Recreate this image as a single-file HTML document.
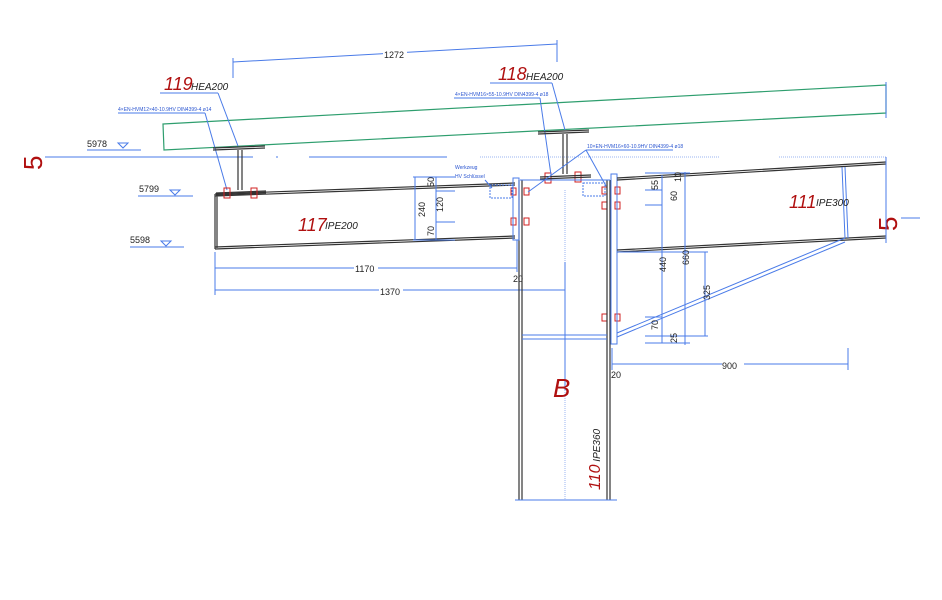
<!DOCTYPE html>
<html><head><meta charset="utf-8"><style>
html,body{margin:0;padding:0;background:#fff;width:942px;height:600px;overflow:hidden}
svg{display:block}
text{font-family:"Liberation Sans",sans-serif}
.b{stroke:#4a7be8;stroke-width:1;fill:none}
.g{stroke:#555;stroke-width:1;fill:none}
.k{stroke:#333;stroke-width:1.2;fill:none}
.r{stroke:#d02020;stroke-width:1;fill:none}
.bt{fill:#2a55d0;font-size:5px}
.dt{fill:#222;font-size:9px}
.red{fill:#b01010;font-style:italic;font-size:18px}
.sm{fill:#222;font-style:italic;font-size:10px}
</style></head><body>
<svg width="942" height="600" viewBox="0 0 942 600">
<!-- top dimension 1272 -->
<line class="b" x1="233" y1="62" x2="557" y2="44"/>
<line class="b" x1="233" y1="58" x2="233" y2="78"/>
<line class="b" x1="557" y1="40" x2="557" y2="62"/>
<rect x="383" y="48" width="24" height="10" fill="#fff"/>
<text x="384" y="58" class="dt" font-size="10">1272</text>

<!-- green purlin beam -->
<polygon points="163,124 886,85 886,113 164,150" fill="none" stroke="#2e9e6e" stroke-width="1.2"/>
<line class="b" x1="886" y1="82" x2="886" y2="118"/>

<!-- section line 5 -->
<line class="b" x1="45" y1="157" x2="253" y2="157"/>
<line class="b" x1="276" y1="157" x2="278" y2="157"/>
<line class="b" x1="309" y1="157" x2="447" y2="157"/>
<line x1="480" y1="157" x2="720" y2="157" stroke="#9bb4f0" stroke-width="1" stroke-dasharray="1,1"/>
<line x1="779" y1="157" x2="886" y2="157" stroke="#9bb4f0" stroke-width="1" stroke-dasharray="1,1"/>
<text x="20" y="168" fill="#b01010" font-size="26" transform="rotate(-90 32 158)">5</text>
<text x="874" y="230" fill="#b01010" font-size="26" transform="rotate(-90 886 219)">5</text>
<line class="b" x1="901" y1="218" x2="920" y2="218"/>

<!-- levels -->
<text x="87" y="147" class="dt" font-size="13">5978</text>
<line class="b" x1="87" y1="150" x2="141" y2="150"/>
<polygon points="118,143 128,143 123,148" class="b"/>
<text x="139" y="192" class="dt" font-size="13">5799</text>
<line class="b" x1="138" y1="196" x2="193" y2="196"/>
<polygon points="170,190 180,190 175,195" class="b"/>
<text x="130" y="243" class="dt" font-size="13">5598</text>
<line class="b" x1="130" y1="247" x2="184" y2="247"/>
<polygon points="161,241 171,241 166,246" class="b"/>

<!-- 119 HEA200 -->
<text x="164" y="90" class="red">119</text><text x="191" y="90" class="sm">HEA200</text>
<line class="b" x1="160" y1="93" x2="218" y2="93"/>
<line class="b" x1="218" y1="93" x2="238" y2="146"/>
<text x="118" y="111" class="bt">4×EN-HVM12×40-10.9HV DIN4399-4 ø14</text>
<line class="b" x1="118" y1="113" x2="205" y2="113"/>
<line class="b" x1="205" y1="113" x2="227" y2="190"/>
<path class="k" d="M213,148 L265,146 M213,150 L265,148 M238,150 L238,190 M242,150 L242,190 M216,193 L266,191 M216,195 L266,193"/>

<!-- beam 117 -->
<path class="k" d="M215,194 L515,183 M215,196 L515,185 M215,247 L515,236 M215,249 L515,238 M215,194 L215,249 M217,195 L217,248"/>
<text x="298" y="231" class="red" font-size="20">117</text><text x="325" y="229" class="sm">IPE200</text>
<!-- bolts -->
<g class="r">
<rect x="224" y="188" width="6" height="10"/><rect x="251" y="188" width="6" height="10"/>
<rect x="545" y="173" width="6" height="10"/><rect x="575" y="172" width="6" height="10"/>
<rect x="511" y="188" width="5" height="7"/><rect x="524" y="188" width="5" height="7"/>
<rect x="511" y="218" width="5" height="7"/><rect x="524" y="218" width="5" height="7"/>
<rect x="602" y="187" width="5" height="7"/><rect x="615" y="187" width="5" height="7"/>
<rect x="602" y="202" width="5" height="7"/><rect x="615" y="202" width="5" height="7"/>
<rect x="602" y="314" width="5" height="7"/><rect x="615" y="314" width="5" height="7"/>
</g>

<!-- dims left beam -->
<g class="b">
<line x1="415" y1="177" x2="415" y2="240"/><line x1="436" y1="177" x2="436" y2="240"/>
<line x1="413" y1="177" x2="455" y2="177"/><line x1="413" y1="240" x2="455" y2="240"/>
<line x1="436" y1="191" x2="455" y2="191"/><line x1="436" y1="222" x2="455" y2="222"/>
<line x1="215" y1="252" x2="215" y2="295"/>
<line x1="215" y1="268" x2="517" y2="268"/>
<line x1="215" y1="290" x2="565" y2="290"/>
<line x1="517" y1="240" x2="517" y2="272"/>
</g>
<g class="dt" font-size="8">
<text transform="translate(425,217) rotate(-90)">240</text>
<text transform="translate(443,212) rotate(-90)">120</text>
<text transform="translate(434,187) rotate(-90)">50</text>
<text transform="translate(434,236) rotate(-90)">70</text>
</g>
<rect x="354" y="263" width="24" height="10" fill="#fff"/><text x="355" y="272" class="dt" font-size="10">1170</text>
<rect x="379" y="285" width="24" height="11" fill="#fff"/><text x="380" y="295" class="dt" font-size="11">1370</text>
<text x="513" y="282" class="dt" font-size="8">20</text>

<!-- 118 HEA200 -->
<text x="498" y="80" class="red">118</text><text x="526" y="80" class="sm">HEA200</text>
<line class="b" x1="490" y1="83" x2="552" y2="83"/>
<line class="b" x1="552" y1="83" x2="565" y2="130"/>
<text x="455" y="96" class="bt">4×EN-HVM16×55-10.9HV DIN4399-4 ø18</text>
<line class="b" x1="454" y1="98" x2="540" y2="98"/>
<line class="b" x1="540" y1="98" x2="551" y2="175"/>
<path class="k" d="M538,132 L589,130 M538,134 L589,132 M563,134 L563,174 M567,134 L567,174 M540,177 L591,175 M540,179 L591,177"/>
<text x="587" y="148" class="bt">10×EN-HVM16×60-10.9HV DIN4399-4 ø18</text>
<line class="b" x1="586" y1="150" x2="673" y2="150"/>
<line class="b" x1="586" y1="150" x2="528" y2="192"/>
<line class="b" x1="586" y1="150" x2="606" y2="186"/>
<text x="455" y="169" class="bt" font-size="5.5">Werkzeug</text>
<text x="455" y="178" class="bt" font-size="5.5">HV Schlüssel</text>
<line class="b" x1="485" y1="180" x2="492" y2="188"/>
<rect x="490" y="185" width="22" height="13" fill="none" stroke="#4a7be8" stroke-dasharray="2,1"/>
<rect x="583" y="183" width="22" height="13" fill="none" stroke="#4a7be8" stroke-dasharray="2,1"/>

<!-- column B -->
<path class="k" d="M519,180 L519,500 M522,180 L522,500 M607,180 L607,500 M610,180 L610,500"/>
<line class="b" x1="520" y1="180" x2="610" y2="180"/>
<rect x="513" y="178" width="6" height="62" class="b"/>
<rect x="611" y="174" width="6" height="170" class="b"/>
<line class="b" x1="522" y1="335" x2="607" y2="335"/>
<line class="b" x1="522" y1="339" x2="607" y2="339"/>
<line x1="565" y1="190" x2="565" y2="500" stroke="#9bb4f0" stroke-dasharray="1,1"/>
<line class="b" x1="565" y1="262" x2="565" y2="390"/>
<line class="b" x1="515" y1="500" x2="617" y2="500"/>
<text x="553" y="397" fill="#b01010" font-style="italic" font-size="26">B</text>
<text transform="translate(600,490) rotate(-90)"><tspan fill="#b01010" font-style="italic" font-size="16">110</tspan><tspan fill="#222" font-style="italic" font-size="10"> IPE360</tspan></text>

<!-- beam 111 -->
<path class="k" d="M617,178 L886,162 M617,180 L886,164 M617,250 L886,236 M617,252 L886,238"/>
<line class="b" x1="886" y1="157" x2="886" y2="243"/>
<path class="b" d="M842,167 L845,238 M845,167 L848,238"/>
<path class="b" d="M617,333 L845,238 M617,337 L845,242"/>
<text x="789" y="208" class="red" font-size="20">111</text><text x="816" y="206" class="sm">IPE300</text>

<!-- right dims -->
<g class="b">
<line x1="662" y1="175" x2="662" y2="343"/><line x1="685" y1="172" x2="685" y2="345"/>
<line x1="705" y1="252" x2="705" y2="336"/>
<line x1="645" y1="173" x2="690" y2="173"/><line x1="645" y1="190" x2="662" y2="190"/>
<line x1="645" y1="205" x2="662" y2="205"/><line x1="617" y1="252" x2="708" y2="252"/>
<line x1="645" y1="317" x2="662" y2="317"/><line x1="645" y1="336" x2="708" y2="336"/>
<line x1="645" y1="343" x2="690" y2="343"/>
<line x1="612" y1="348" x2="612" y2="370"/>
<line x1="612" y1="364" x2="848" y2="364"/>
<line x1="848" y1="348" x2="848" y2="370"/>
</g>
<g class="dt" font-size="8">
<text transform="translate(658,190) rotate(-90)">55</text>
<text transform="translate(681,182) rotate(-90)">10</text>
<text transform="translate(677,201) rotate(-90)">60</text>
<text transform="translate(666,272) rotate(-90)">440</text>
<text transform="translate(689,265) rotate(-90)">660</text>
<text transform="translate(710,300) rotate(-90)">325</text>
<text transform="translate(658,330) rotate(-90)">70</text>
<text transform="translate(677,343) rotate(-90)">25</text>
</g>
<rect x="722" y="358" width="22" height="12" fill="#fff"/><text x="722" y="369" class="dt" font-size="12">900</text>
<text x="611" y="378" class="dt" font-size="8">20</text>
</svg>
</body></html>
